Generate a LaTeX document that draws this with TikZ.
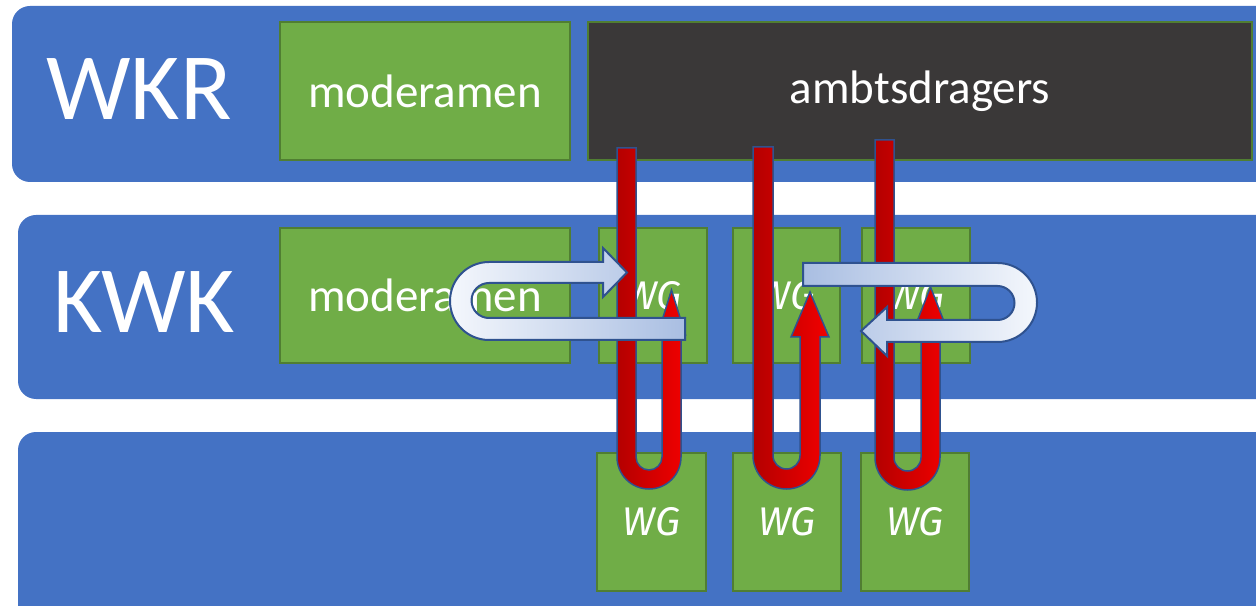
\documentclass[tikz,border=0pt]{standalone}
\usepackage{fontspec}
\setmainfont{Carlito}
\newfontfamily\wgfont{Fira Sans}

\definecolor{bandblue}{HTML}{4472C4}
\definecolor{boxgreen}{HTML}{70AD47}
\definecolor{boxedge}{HTML}{507E32}
\definecolor{boxdark}{HTML}{3A3838}
\definecolor{arrowedge}{HTML}{2F528F}
\definecolor{reddark}{HTML}{B40000}
\definecolor{redbright}{HTML}{F20000}
\definecolor{paleblue}{HTML}{A9BEE2}
\definecolor{whiteblue}{HTML}{F4F7FC}

\tikzset{
  band/.style={fill=bandblue, rounded corners=9pt},
  greenbox/.style={draw=boxedge, fill=boxgreen, line width=0.8pt, text=white,
    font=\fontsize{23.5}{26}\selectfont, inner sep=0pt},
  darkbox/.style={greenbox, fill=boxdark},
  wgbox/.style={greenbox, font=\wgfont\itshape\fontsize{20}{22}\selectfont},
  bandlabel/.style={text=white, font=\fontsize{47.5}{50}\selectfont, anchor=base west, inner sep=0pt},
  redarrow/.style={draw=arrowedge, line width=0.75pt, left color=reddark, right color=redbright},
  bluearrow/.style={draw=arrowedge, line width=1pt}
}

% U-arrow: #1 left x, #2 shaft width, #3 outer radius, #4 top, #5 arc centre,
% #6 head base, #7 tip, #8 half head width
\newcommand{\redloop}[8]{%
  \draw[redarrow] (#1,#4) -- (#1,#5)
    arc[start angle=180, end angle=360, radius=#3]
    -- ({#1+2*#3},#6) -- ({#1+2*#3-#2/2+#8},#6)
    -- ({#1+2*#3-#2/2},#7) -- ({#1+2*#3-#2/2-#8},#6)
    -- ({#1+2*#3-#2},#6) -- ({#1+2*#3-#2},#5)
    arc[start angle=0, end angle=-180, radius={#3-#2}]
    -- ({#1+#2},#4) -- cycle;}

\begin{document}
\begin{tikzpicture}[x=0.5pt, y=0.5pt]
  \useasboundingbox (0,0) rectangle (1256,605);
  \clip (0,0) rectangle (1256,605);

  % banden
  \fill[band] (12,599) rectangle (1300,423);
  \fill[band] (18,390) rectangle (1300,206);
  \fill[band] (18,173) rectangle (1300,-40);

  % WKR
  \node[bandlabel] (wkr) at (46,485) {WKR};
  \node[greenbox, minimum width=145pt, minimum height=69pt] (wkrmod) at (425,514) {moderamen};
  \node[darkbox, minimum width=332pt, minimum height=69pt] (ambt) at (920,514) {ambtsdragers};

  % KWK
  \node[bandlabel] (kwk) at (53,272) {KWK};
  \node[greenbox, minimum width=145pt, minimum height=67.5pt] (kwkmod) at (425,309.5) {moderamen};
  \node[wgbox, minimum width=54pt, minimum height=67.5pt] (kwg1) at (653,309.5) {WG};
  \node[wgbox, minimum width=53.5pt, minimum height=67.5pt] (kwg2) at (786.5,309.5) {WG};
  \node[wgbox, minimum width=54pt, minimum height=67.5pt] (kwg3) at (916,309.5) {WG};

  % onderste laag
  \node[wgbox, minimum width=54.5pt, minimum height=69pt] (wg1) at (651.5,83) {WG};
  \node[wgbox, minimum width=54pt, minimum height=69pt] (wg2) at (787,83) {WG};
  \node[wgbox, minimum width=54pt, minimum height=69pt] (wg3) at (915,83) {WG};

  % rode pijlen
  \redloop{617}{19}{32}{457}{148}{270}{315}{14}
  \redloop{753}{20}{33.5}{458}{149.5}{268}{313}{19}
  \redloop{875}{19}{32.5}{465}{147.5}{272}{318}{18}

  % witte pijlen
  \draw[bluearrow, left color=whiteblue, right color=paleblue]
    (685,265) -- (489,265) arc[start angle=270, end angle=90, radius=39]
    -- (603,343) -- (603,357) -- (627,332.5) -- (603,308) -- (603,322) -- (489,322)
    arc[start angle=90, end angle=270, radius=17.5] -- (685,287) -- cycle;
  \draw[bluearrow, left color=paleblue, right color=whiteblue]
    (803,342) -- (997.5,342) arc[start angle=90, end angle=-90, radius=39.5]
    -- (887,263) -- (887,249) -- (861,274) -- (887,298) -- (887,285) -- (997.5,285)
    arc[start angle=-90, end angle=90, radius=17] -- (803,319) -- cycle;
\end{tikzpicture}
\end{document}
